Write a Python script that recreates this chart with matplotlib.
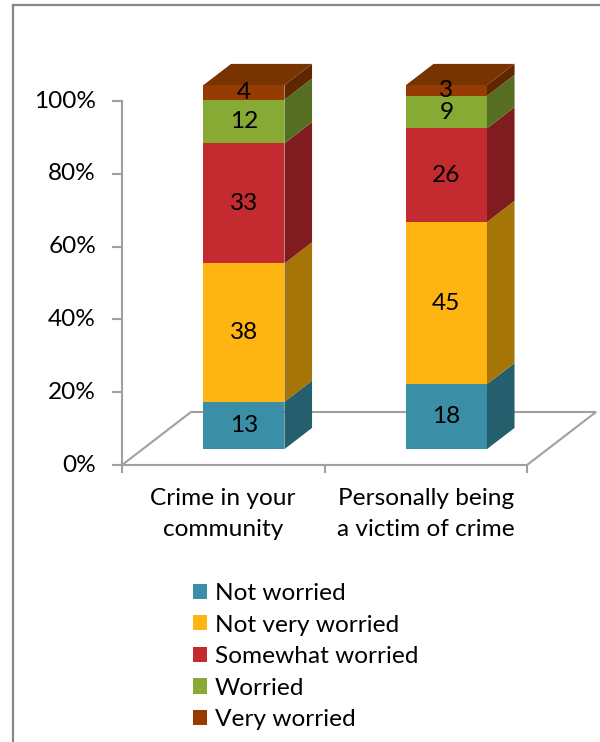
import matplotlib
matplotlib.use("Agg")
import matplotlib.pyplot as plt
from matplotlib.patches import Polygon, Patch
from matplotlib.lines import Line2D

plt.rcParams['font.family'] = ['Lato', 'DejaVu Sans']

# ---- data ----
categories = ["Crime in your\ncommunity", "Personally being\na victim of crime"]
series = ["Not worried", "Not very worried", "Somewhat worried", "Worried", "Very worried"]
values = {
    "Not worried":      [13, 18],
    "Not very worried": [38, 45],
    "Somewhat worried": [33, 26],
    "Worried":          [12, 9],
    "Very worried":     [4, 3],
}
yticks = [0, 20, 40, 60, 80, 100]
ytick_labels = ["0%", "20%", "40%", "60%", "80%", "100%"]

front_colors = ["#3A8EA5", "#FFB511", "#C32B31", "#86AA33", "#963C02"]
side_colors = ["#255E6C", "#A67508", "#801C20", "#566E21", "#5F2700"]
top_color = "#773300"
grid_gray = "#A0A0A0"
FS = 17.6

W, H = 600, 742
fig = plt.figure(figsize=(W / 100, H / 100), dpi=100)
fig.patch.set_facecolor("white")

# plot area in pixel terms: x 122..527, y(0%) 465 .. y(100%) 101
ax = fig.add_axes([122 / W, (H - 465) / H, 405 / W, 364 / H])
ax.set_xlim(0, 2)
ax.set_ylim(0, 100)
ax.axis("off")

# oblique depth vector (data units per full floor depth)
kx = 69 / 202.5
ky = 53 / 3.64


def proj(x, y, z):
    return (x + z * kx, y + z * ky)


# floor
floor = Polygon([proj(0, 0, 0), proj(2, 0, 0), proj(2, 0, 1), proj(0, 0, 1)],
                closed=True, facecolor="white", edgecolor=grid_gray, lw=1.5,
                clip_on=False, zorder=1)
ax.add_patch(floor)

# vertical axis with ticks
ax.add_line(Line2D([0, 0], [0, 100], color=grid_gray, lw=1.5, clip_on=False, zorder=2))
tick_dx = 9 / 202.5
for t, lab in zip(yticks, ytick_labels):
    ax.add_line(Line2D([-tick_dx, 0], [t, t], color=grid_gray, lw=1.5, clip_on=False, zorder=2))
    ax.text(-26 / 202.5, t, lab, ha="right", va="center", fontsize=FS, color="black")

# horizontal axis ticks and category labels
for xt in [0, 1, 2]:
    ax.add_line(Line2D([xt, xt], [0, -7 / 3.64], color=grid_gray, lw=1.5, clip_on=False, zorder=2))
for i, cat in enumerate(categories):
    ax.text(i + 0.5, -23 / 3.64, cat, ha="center", va="top", fontsize=FS,
            linespacing=1.58, color="black")

# stacked 3D bars (100% stacked)
bar_w = 0.4
z0, z1 = 0.3, 0.7
for i in range(len(categories)):
    total = sum(values[s][i] for s in series)
    x0 = i + 0.5 - bar_w / 2
    x1 = i + 0.5 + bar_w / 2
    base = 0.0
    for k, s in enumerate(series):
        v = values[s][i]
        h = v / total * 100
        top = base + h
        front = Polygon([proj(x0, base, z0), proj(x1, base, z0), proj(x1, top, z0), proj(x0, top, z0)],
                        closed=True, facecolor=front_colors[k], edgecolor="none",
                        clip_on=False, zorder=3)
        side = Polygon([proj(x1, base, z0), proj(x1, base, z1), proj(x1, top, z1), proj(x1, top, z0)],
                       closed=True, facecolor=side_colors[k], edgecolor="none",
                       clip_on=False, zorder=3)
        ax.add_patch(front)
        ax.add_patch(side)
        if k == len(series) - 1:
            lid = Polygon([proj(x0, top, z0), proj(x1, top, z0), proj(x1, top, z1), proj(x0, top, z1)],
                          closed=True, facecolor=top_color, edgecolor="none",
                          clip_on=False, zorder=3)
            ax.add_patch(lid)
        cx, cy = proj(i + 0.5, base + h / 2, z0)
        ax.text(cx, cy, str(v), ha="center", va="center", fontsize=FS,
                color="black", zorder=5)
        base = top

# legend
handles = [Patch(facecolor=c, edgecolor="none") for c in front_colors]
fig.legend(handles, series, loc="upper left",
           bbox_to_anchor=(193 / W, 1 - 583 / H), frameon=False, fontsize=FS,
           handlelength=0.58, handleheight=0.58, handletextpad=0.32,
           labelspacing=0.43, borderaxespad=0, borderpad=0)

# outer frame
fig.add_artist(Line2D([13 / W, 13 / W], [0, 1 - 5 / H], color="#888888", lw=1.6,
                      transform=fig.transFigure))
fig.add_artist(Line2D([13 / W, 1], [1 - 5 / H, 1 - 5 / H], color="#888888", lw=1.6,
                      transform=fig.transFigure))

fig.savefig("out.png", dpi=100, facecolor="white")
